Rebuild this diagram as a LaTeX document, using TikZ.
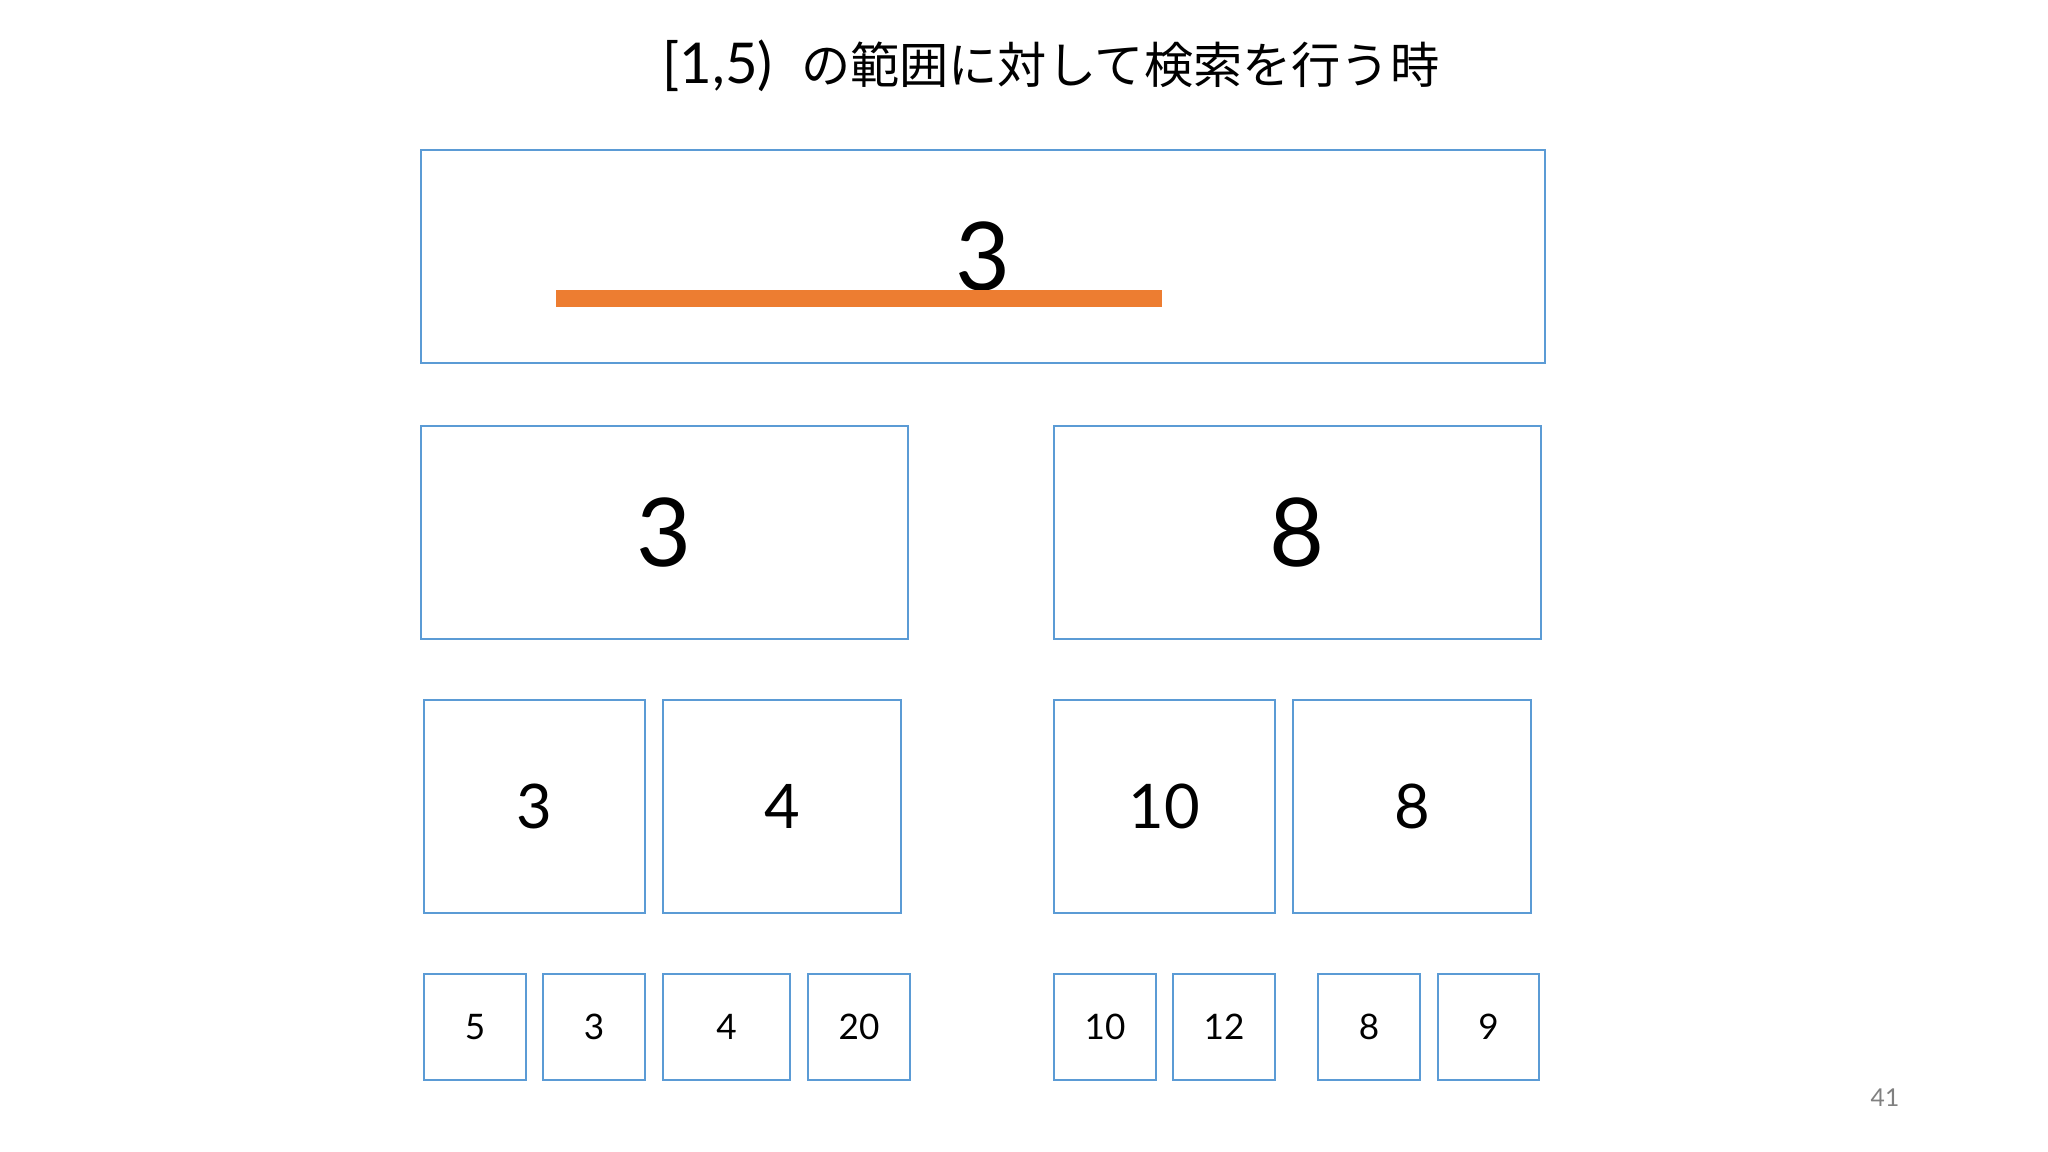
\documentclass[tikz,border=0pt]{standalone}
\usepackage{fontspec}
\setmainfont{Lato}
\newfontfamily\jpfont{Noto Sans CJK JP}
\definecolor{boxblue}{HTML}{5B9BD5}
\definecolor{barorange}{HTML}{ED7D31}
\tikzset{
  cell/.style={draw=boxblue, line width=0.8pt, inner sep=0pt, outer sep=0pt},
  big/.style={font=\fontsize{27}{30}\selectfont},
  mid/.style={font=\fontsize{17.5}{20}\selectfont},
  small/.style={font=\fontsize{10}{12}\selectfont}
}

\begin{document}
\begin{tikzpicture}
  \useasboundingbox[fill=white] (0,0) rectangle (20.48,-11.52);
  \node (title) at (10.51,-0.66) {\fontsize{16}{19}\selectfont [1,5)\hspace{0.5em}{\jpfont\fontsize{14}{17}\selectfont の範囲に対して検索を行う時}};

  % root
  \node[cell,big,minimum width=11.24cm,minimum height=2.13cm] (root) at (9.83,-2.565) {3};
  \fill[barorange] (5.56,-2.90) rectangle (11.62,-3.07);

  % second level
  \node[cell,big,minimum width=4.87cm,minimum height=2.13cm] (n1) at (6.645,-5.325) {3};
  \node[cell,big,minimum width=4.87cm,minimum height=2.13cm] (n2) at (12.975,-5.325) {8};

  % third level
  \node[cell,mid,minimum width=2.21cm,minimum height=2.13cm] (n11) at (5.345,-8.065) {3};
  \node[cell,mid,minimum width=2.38cm,minimum height=2.13cm] (n12) at (7.82,-8.065) {4};
  \node[cell,mid,minimum width=2.21cm,minimum height=2.13cm] (n21) at (11.645,-8.065) {10};
  \node[cell,mid,minimum width=2.38cm,minimum height=2.13cm] (n22) at (14.12,-8.065) {8};

  % leaves
  \foreach \i/\x/\w/\v in {1/4.75/1.02/5, 2/5.94/1.02/3, 3/7.265/1.27/4, 4/8.59/1.02/20,
                           5/11.05/1.02/10, 6/12.24/1.02/12, 7/13.69/1.02/8, 8/14.885/1.01/9}
    \node[cell,small,minimum width=\w cm,minimum height=1.06cm] (leaf\i) at (\x,-10.27) {\v};

  \node[text=gray,font=\fontsize{7}{8}\selectfont] (page) at (18.85,-10.98) {41};
\end{tikzpicture}
\end{document}
